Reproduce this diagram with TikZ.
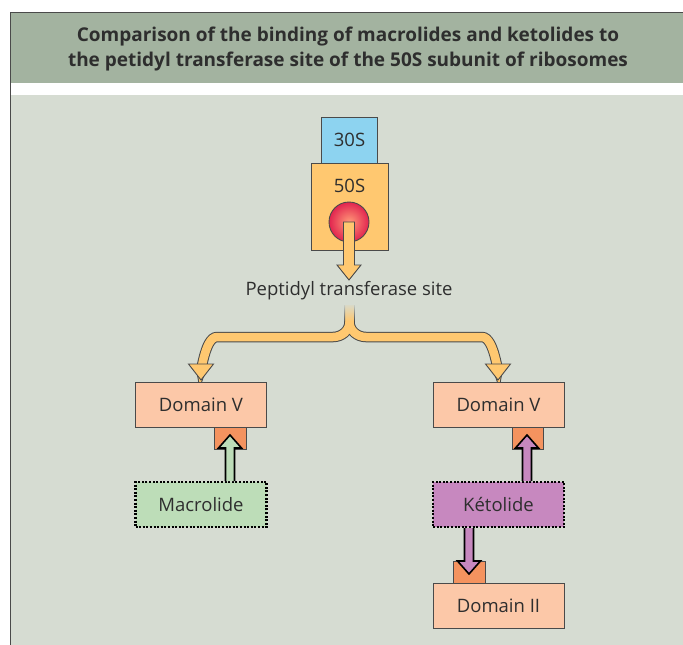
\documentclass[tikz,border=0pt]{standalone}
\usepackage{fontspec}
\setmainfont{Open Sans}
\usetikzlibrary{fadings,shadings}
\definecolor{bgc}{HTML}{D6DCD2}
\definecolor{hdr}{HTML}{A3B3A0}
\definecolor{txt}{HTML}{2E2E2E}
\definecolor{edge}{HTML}{4A4A4A}
\definecolor{blu}{HTML}{8DD3F0}
\definecolor{orng}{HTML}{FFC870}
\definecolor{peach}{HTML}{FCC8A8}
\definecolor{sq}{HTML}{F4935F}
\definecolor{grn}{HTML}{BDDDB8}
\definecolor{purp}{HTML}{C788BF}
\definecolor{redc}{HTML}{E2244F}
\definecolor{pinkc}{HTML}{FF9A78}
\begin{document}
\begin{tikzpicture}[x=1pt,y=-1pt,
  txtstyle/.style={text=txt,font=\fontsize{18.5}{22}\selectfont},
  boxstyle/.style={draw=edge,line width=0.9pt,fill=peach,minimum width=131pt,minimum height=45pt,inner sep=0pt,txtstyle},
  ligand/.style={draw=black,line width=2.8pt,dash pattern=on 2pt off 1.6pt,minimum width=131pt,minimum height=45pt,inner sep=0pt,txtstyle},
  sqstyle/.style={draw=edge,line width=0.9pt,fill=sq},
  dblarrow/.style={draw=black,line width=1.6pt,line join=miter}]
\useasboundingbox (0,0) rectangle (683,645);
\fill[white] (0,0) rectangle (683,645);
% header
\fill[hdr] (10,12) rectangle (683,83);
\fill[bgc] (10,95) rectangle (683,645);
\draw[edge,line width=1pt] (683,12) -- (10,12) -- (10,645);
\node[align=center,text=txt,font=\bfseries\fontsize{19}{25}\selectfont] (title) at (348,49)
  {Comparison of the binding of macrolides and ketolides to\\the petidyl transferase site of the 50S subunit of ribosomes};
% ribosome
\node[draw=edge,line width=0.9pt,fill=blu,minimum width=56pt,minimum height=46pt,inner sep=0pt,txtstyle] (s30) at (349.5,140) {30S};
\node[draw=edge,line width=0.9pt,fill=orng,minimum width=77pt,minimum height=87pt,inner sep=0pt] (s50) at (349.5,206.5) {};
\node[txtstyle] (l50) at (349.5,186) {50S};
\shade[inner color=pinkc,outer color=redc] (349,222) circle (20);
\draw[edge,line width=0.9pt] (349,222) circle (20);
\node[circle,minimum size=40pt,inner sep=0pt] (site) at (349,222) {};
% main arrow
\draw[draw=edge,fill=orng,line width=0.9pt,line join=miter]
  (343.5,222) -- (343.5,265) -- (337,265) -- (349,280) -- (361,265) -- (354.5,265) -- (354.5,222) -- cycle;
\node[txtstyle] (pts) at (349,291) {Peptidyl transferase site};
% brace arrow
\coordinate (stem) at (349.5,305);
\coordinate (lend) at (201,366);
\coordinate (rend) at (498,366);
\foreach \w/\c in {10.5/edge,8.5/orng}{
  \draw[line width=\w pt,color=\c] (stem) -- (349.5,322) to[out=-90,in=0] (333,337) -- (217,337) to[out=180,in=-90] (lend);
  \draw[line width=\w pt,color=\c] (stem) -- (349.5,322) to[out=-90,in=180] (366,337) -- (482,337) to[out=0,in=-90] (rend);
}
\fill[bgc,path fading=south] (342,303) rectangle (357,321);
\draw[draw=edge,fill=orng,line width=0.9pt,line join=miter] (188.5,364) -- (213.5,364) -- (201,380) -- cycle;
\draw[draw=edge,fill=orng,line width=0.9pt,line join=miter] (485.5,364) -- (510.5,364) -- (498,380) -- cycle;
% left branch
\node[boxstyle] (dvl) at (201,404.5) {Domain V};
\draw[sqstyle] (214,427) rectangle (246,449);
\node[ligand,fill=grn] (mac) at (201,504.5) {Macrolide};
\draw[dblarrow,fill=grn] (225.5,481) -- (225.5,448) -- (218.5,448) -- (230,435) -- (241.5,448) -- (234.5,448) -- (234.5,481);
% right branch
\node[boxstyle] (dvr) at (498.5,404.5) {Domain V};
\draw[sqstyle] (512,427) rectangle (543,449);
\node[ligand,fill=purp] (ket) at (498.5,504.5) {Kétolide};
\draw[dblarrow,fill=purp] (522.5,481) -- (522.5,448) -- (515.5,448) -- (527,435) -- (538.5,448) -- (531.5,448) -- (531.5,481);
\node[boxstyle] (d2) at (498.5,605.5) {Domain II};
\draw[sqstyle] (453,561) rectangle (485,583);
\draw[dblarrow,fill=purp] (464.5,528) -- (464.5,561) -- (457.5,561) -- (469,574) -- (480.5,561) -- (473.5,561) -- (473.5,528);
\end{tikzpicture}
\end{document}
